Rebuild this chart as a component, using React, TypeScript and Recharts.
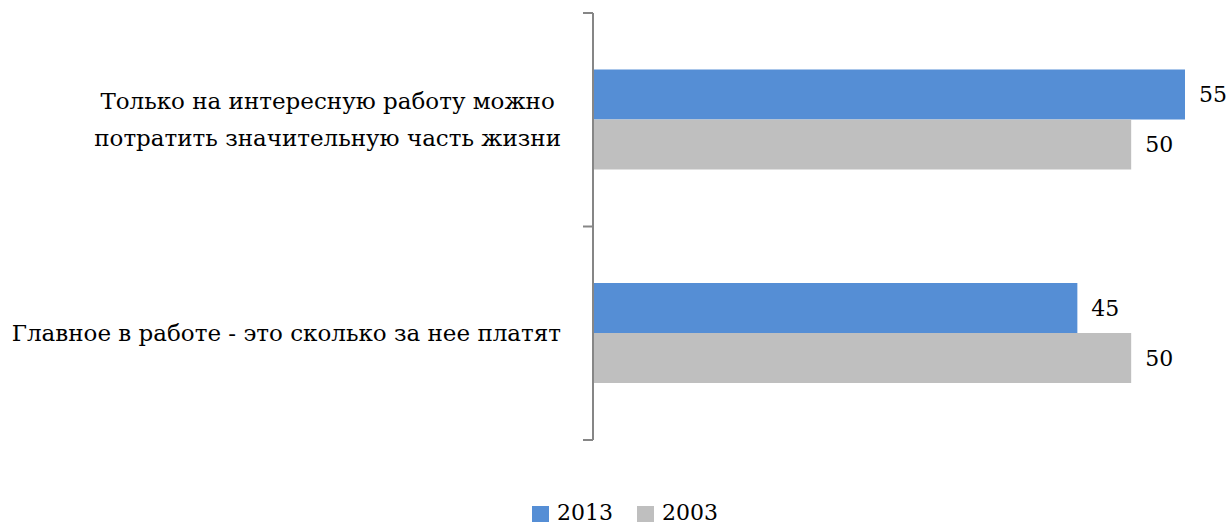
import React, { useLayoutEffect, useRef, useState } from "react";
import { Bar, BarChart, LabelList, XAxis, YAxis } from "recharts";

const categoryLines = [
  ["Только на интересную работу можно", "потратить значительную часть жизни"],
  ["Главное в работе - это сколько за нее платят"],
];
const categories = categoryLines.map((lines) => lines.join(" "));
const values2013 = [55, 45];
const values2003 = [50, 50];
const seriesNames = ["2013", "2003"];

const BLUE = "#558ED5";
const GRAY = "#BFBFBF";
const AXIS = "#868686";
const FONT = "DejaVu Serif";

const data = categories.map((name, i) => ({
  name,
  y2013: values2013[i],
  y2003: values2003[i],
}));

// right-aligned block, lines centred within it (like the office chart)
function CategoryTick(props: any) {
  const { x, y, payload, index } = props;
  const lines: string[] = categoryLines[index] ?? [String(payload.value)];
  const half = payload.offset ?? 0;
  const lineHeight = 37;
  const startY = y - ((lines.length - 1) * lineHeight) / 2;
  const refs = useRef<(SVGTextElement | null)[]>([]);
  const [maxW, setMaxW] = useState(0);
  useLayoutEffect(() => {
    const w = Math.max(0, ...refs.current.map((el) => (el ? el.getComputedTextLength() : 0)));
    if (Math.abs(w - maxW) > 0.5) setMaxW(w);
  });
  const right = x - 22;
  const cx = right - maxW / 2;
  return (
    <g>
      <line x1={x} x2={x + 10} y1={y - half} y2={y - half} stroke={AXIS} strokeWidth={2} />
      {index === categories.length - 1 ? (
        <line x1={x} x2={x + 10} y1={y + half} y2={y + half} stroke={AXIS} strokeWidth={2} />
      ) : null}
      {lines.map((line, i) => (
        <text
          key={i}
          ref={(el) => {
            refs.current[i] = el;
          }}
          x={maxW ? cx : right}
          y={startY + i * lineHeight}
          dy="0.35em"
          textAnchor={maxW ? "middle" : "end"}
          fill="#000"
          fontSize={23}
          fontFamily={FONT}
        >
          {line}
        </text>
      ))}
    </g>
  );
}

export default function App() {
  return (
    <div style={{ position: "absolute", left: 0, top: 0, width: 1230, height: 523, background: "#fff" }}>
      <BarChart
        width={1230}
        height={523}
        data={data}
        layout="vertical"
        margin={{ top: 13, right: 45, bottom: 83, left: 0 }}
        barCategoryGap="26.5%"
        barGap={0}
      >
        <XAxis type="number" domain={[0, 55]} hide />
        <YAxis
          type="category"
          dataKey="name"
          width={593}
          tickSize={10}
          tickMargin={0}
          tickLine={false}
          axisLine={{ stroke: AXIS, strokeWidth: 2 }}
          tick={<CategoryTick />}
          interval={0}
        />
        <Bar dataKey="y2013" name={seriesNames[0]} fill={BLUE} isAnimationActive={false}>
          <LabelList dataKey="y2013" position="right" offset={14} fill="#000" fontSize={22} fontFamily={FONT} />
        </Bar>
        <Bar dataKey="y2003" name={seriesNames[1]} fill={GRAY} isAnimationActive={false}>
          <LabelList dataKey="y2003" position="right" offset={14} fill="#000" fontSize={22} fontFamily={FONT} />
        </Bar>
      </BarChart>
      <div
        style={{
          position: "absolute",
          left: 532,
          top: 503,
          display: "flex",
          alignItems: "center",
          fontFamily: FONT,
          fontSize: 22,
          color: "#000",
          lineHeight: "20px",
        }}
      >
        {seriesNames.map((s, i) => (
          <span key={s} style={{ display: "flex", alignItems: "center", marginRight: 24 }}>
            <span
              style={{
                display: "inline-block",
                width: 17,
                height: 16,
                background: i === 0 ? BLUE : GRAY,
                marginRight: 8,
                marginTop: 2,
              }}
            />
            {s}
          </span>
        ))}
      </div>
    </div>
  );
}
